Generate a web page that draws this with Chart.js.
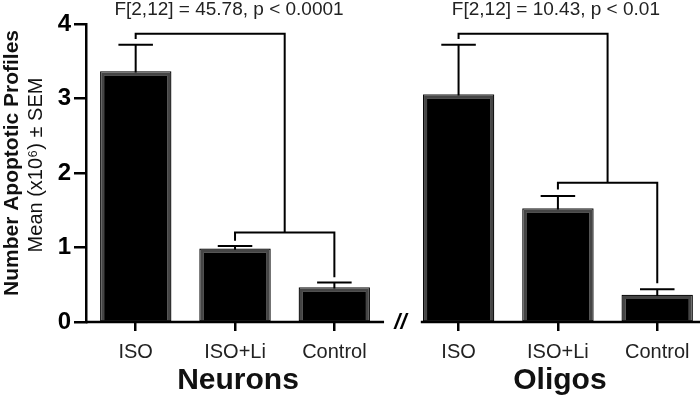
<!DOCTYPE html>
<html>
<head>
<meta charset="utf-8">
<script src="https://cdn.jsdelivr.net/npm/chart.js@4/dist/chart.umd.min.js"></script>
<style>
  html, body { margin: 0; padding: 0; background: #fff; overflow: hidden; }
  #wrap { width: 700px; height: 400px; }
</style>
</head>
<body>
<div id="wrap"><canvas id="chart" width="700" height="400"></canvas></div>
<script>
// -----------------------
// DATA
// -----------------------

const conditions = ['ISO', 'ISO+Li', 'Control'];
const groupNames = ['Neurons', 'Oligos'];

const neuronMeans = [3.35, 0.97, 0.45];
const neuronSEM = [0.37, 0.05, 0.08];
const oligoMeans = [3.04, 1.51, 0.35];
const oligoSEM = [0.68, 0.18, 0.09];

// slot of each bar on the x axis (oligos sit after a small gap)
const neuronSlots = [0, 1, 2];
const oligoSlots = [3.25, 4.25, 5.25];

const yTicks = [0, 1, 2, 3, 4];

const statTexts = ['F[2,12] = 45.78, p < 0.0001', 'F[2,12] = 10.43, p < 0.01'];

// bracket heights: [top, top drop, lower, lower left drop, lower right drop]
const neuronBracket = [3.87, 3.80, 1.20, 1.09, 0.60];
const oligoBracket = [3.87, 3.80, 1.87, 1.78, 0.52];

const FONT = '"Liberation Sans", Arial, Helvetica, sans-serif';
const allSlots = neuronSlots.concat(oligoSlots);
const allLabels = conditions.concat(conditions);

// -----------------------
// PLUGIN: error bars, brackets, texts
// -----------------------

const decorations = {
    id: 'decorations',
    afterDatasetsDraw(chart) {
        const ctx = chart.ctx;
        const xs = chart.scales.x;
        const ys = chart.scales.y;
        const area = chart.chartArea;
        const sems = [neuronSEM, oligoSEM];
        const means = [neuronMeans, oligoMeans];

        ctx.save();

        // bar outline + error bars
        chart.data.datasets.forEach((ds, d) => {
            const meta = chart.getDatasetMeta(d);
            meta.data.forEach((bar, i) => {
                const w = bar.width;
                ctx.strokeStyle = '#000';
                ctx.lineWidth = 1;
                ctx.strokeRect(bar.x - w / 2 - 0.5, bar.y - 0.5, w + 1, bar.base - bar.y + 0.5);

                const yTop = ys.getPixelForValue(means[d][i] + sems[d][i]);
                ctx.lineWidth = 2;
                ctx.beginPath();
                ctx.moveTo(bar.x, bar.y);
                ctx.lineTo(bar.x, yTop);
                ctx.moveTo(bar.x - w / 4, yTop);
                ctx.lineTo(bar.x + w / 4, yTop);
                ctx.stroke();
            });
        });

        // brackets
        const drawBracket = (slots, b) => {
            const x0 = xs.getPixelForValue(slots[0]);
            const x1 = xs.getPixelForValue(slots[1]);
            const x2 = xs.getPixelForValue(slots[2]);
            const xm = (x1 + x2) / 2;
            ctx.lineWidth = 2;
            ctx.strokeStyle = '#000';
            ctx.beginPath();
            ctx.moveTo(x0, ys.getPixelForValue(b[1]));
            ctx.lineTo(x0, ys.getPixelForValue(b[0]));
            ctx.lineTo(xm, ys.getPixelForValue(b[0]));
            ctx.lineTo(xm, ys.getPixelForValue(b[2]));
            ctx.moveTo(x1, ys.getPixelForValue(b[3]));
            ctx.lineTo(x1, ys.getPixelForValue(b[2]));
            ctx.lineTo(x2, ys.getPixelForValue(b[2]));
            ctx.lineTo(x2, ys.getPixelForValue(b[4]));
            ctx.stroke();
        };
        drawBracket(neuronSlots, neuronBracket);
        drawBracket(oligoSlots, oligoBracket);

        // broken x axis
        const yb = area.bottom;
        ctx.lineWidth = 2.5;
        ctx.beginPath();
        ctx.moveTo(xs.getPixelForValue(-0.5), yb);
        ctx.lineTo(xs.getPixelForValue(2.5), yb);
        ctx.moveTo(xs.getPixelForValue(2.87), yb);
        ctx.lineTo(area.right + 5, yb);
        ctx.stroke();

        ctx.fillStyle = '#000';
        ctx.font = 'italic bold 22px ' + FONT;
        ctx.textAlign = 'center';
        ctx.textBaseline = 'middle';
        ctx.fillText('//', (xs.getPixelForValue(2.5) + xs.getPixelForValue(2.87)) / 2 - 2, yb + 1);

        // stats texts
        ctx.fillStyle = '#222';
        ctx.font = '19px ' + FONT;
        ctx.fillText(statTexts[0], xs.getPixelForValue(neuronSlots[1]) - 6, 10);
        ctx.fillText(statTexts[1], xs.getPixelForValue(oligoSlots[1]) - 2, 10);

        // group names
        ctx.fillStyle = '#111';
        ctx.font = 'bold 30px ' + FONT;
        ctx.fillText(groupNames[0], xs.getPixelForValue(neuronSlots[1]) + 3, 381);
        ctx.fillText(groupNames[1], xs.getPixelForValue(oligoSlots[1]) + 2, 381);

        // y axis title (two lines)
        ctx.translate(12, 163);
        ctx.rotate(-Math.PI / 2);
        ctx.fillStyle = '#111';
        ctx.font = 'bold 21px ' + FONT;
        ctx.fillText('Number Apoptotic Profiles', 0, 0);
        ctx.font = '20px ' + FONT;
        ctx.fillText('Mean (x10\u2076) \u00b1 SEM', -2, 24);

        ctx.restore();
    }
};

// -----------------------
// CHART SETUP
// -----------------------

const ctx = document.getElementById('chart').getContext('2d');

const barStyle = {
    backgroundColor: '#000',
    borderColor: '#454545',
    borderWidth: 3,
    grouped: false,
    categoryPercentage: 1,
    barPercentage: 0.695
};

new Chart(ctx, {
    type: 'bar',
    data: {
        datasets: [
            Object.assign({ label: groupNames[0], data: neuronSlots.map((x, i) => ({ x: x, y: neuronMeans[i] })) }, barStyle),
            Object.assign({ label: groupNames[1], data: oligoSlots.map((x, i) => ({ x: x, y: oligoMeans[i] })) }, barStyle)
        ]
    },
    options: {
        responsive: false,
        animation: false,
        layout: { padding: { top: 24, right: 3, left: 0, bottom: 0 } },
        plugins: { legend: { display: false }, tooltip: { enabled: false } },
        scales: {
            x: {
                type: 'linear',
                offset: false,
                min: -0.5,
                max: 5.65,
                afterBuildTicks: scale => { scale.ticks = allSlots.map(v => ({ value: v })); },
                afterFit: scale => { scale.height = 78; },
                ticks: {
                    autoSkip: false,
                    maxRotation: 0,
                    padding: 9,
                    color: '#222',
                    font: { family: FONT, size: 20 },
                    callback: v => allLabels[allSlots.indexOf(v)]
                },
                grid: { offset: false, drawOnChartArea: false, tickLength: 9, color: '#000', lineWidth: 2.5 },
                border: { display: false }
            },
            y: {
                min: 0,
                max: 4,
                afterBuildTicks: scale => { scale.ticks = yTicks.map(v => ({ value: v })); },
                afterFit: scale => { scale.width = 86; },
                ticks: {
                    padding: 3,
                    color: '#000',
                    font: { family: FONT, size: 24, weight: 'bold' }
                },
                grid: { drawOnChartArea: false, tickLength: 12, color: '#000', lineWidth: 2.5 },
                border: { display: true, color: '#000', width: 2.5 }
            }
        }
    },
    plugins: [decorations]
});
</script>
</body>
</html>
